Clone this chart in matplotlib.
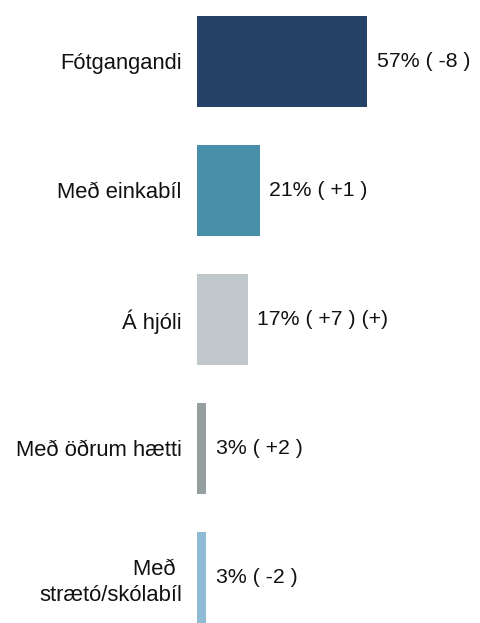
import matplotlib.pyplot as plt

plt.rcParams['font.family'] = ['Liberation Sans', 'DejaVu Sans']

# Data
categories = ['Fótgangandi', 'Með einkabíl', 'Á hjóli', 'Með öðrum hætti', 'Með \nstrætó/skólabíl']
values = [57, 21, 17, 3, 3]
changes = ['( -8 )', '( +1 )', '( +7 ) (+)', '( +2 )', '( -2 )']
colors = ['#244366', '#4A8FAA', '#C1C8CB', '#959F9F', '#8FBCD4']

fig = plt.figure(figsize=(4.8, 6.23), dpi=100)
ax = fig.add_axes([197 / 480, 0, 1 - 197 / 480, 1])

pos = list(range(len(categories)))
ax.barh(pos, values, height=0.705, color=colors)

for p, v, c in zip(pos, values, changes):
    ax.text(v + 3.3, p, f'{v}% {c}', va='center', ha='left', fontsize=15.3, color='#111111')

ax.set_xlim(0, 95)
ax.set_ylim(4.353, -0.473)
ax.set_yticks(pos)
ax.set_yticklabels(categories, fontsize=15.8, color='#111111', ha='right',
                   multialignment='right', linespacing=1.3)
ax.tick_params(axis='y', length=0, pad=11)
ax.set_xticks([])
for s in ax.spines.values():
    s.set_visible(False)

fig.savefig('out.png', dpi=100)
